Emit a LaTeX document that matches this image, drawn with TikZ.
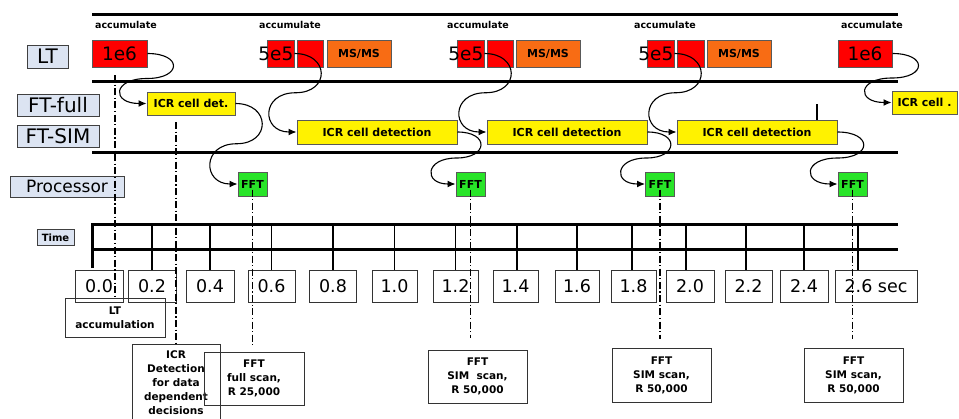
\documentclass[tikz,border=0pt]{standalone}
\usepackage{fontspec}
\setmainfont{DejaVu Sans}
\usetikzlibrary{arrows.meta,calc}

\definecolor{labelblue}{RGB}{220,228,242}
\definecolor{msorange}{RGB}{248,108,20}
\definecolor{fftgreen}{RGB}{40,228,40}

\tikzset{
  lane/.style={line width=3pt},
  tick/.style={line width=1.2pt},
  guide/.style={line width=1.2pt, dash pattern=on 7pt off 2.5pt on 1.2pt off 2.5pt},
  flow/.style={line width=1.1pt, -{Latex[length=8pt,width=7pt]}},
  rowlabel/.style={draw=black!75, fill=labelblue, line width=1pt, inner sep=0pt, font=\fontsize{20}{22}\selectfont},
  acc/.style={font=\fontsize{9.5}{11}\selectfont\bfseries},
  ltbox/.style={draw=black!65, fill=red, line width=1pt, minimum height=27, inner sep=0pt, font=\fontsize{18.5}{20}\selectfont},
  msbox/.style={draw=black!65, fill=msorange, line width=1pt, minimum width=64, minimum height=27, inner sep=0pt, font=\fontsize{11}{13}\selectfont\bfseries},
  icrbox/.style={draw=black!65, fill=yellow, line width=1pt, minimum height=24, inner sep=0pt, font=\fontsize{11}{13}\selectfont\bfseries},
  fftbox/.style={draw=black!65, fill=fftgreen, line width=1pt, minimum width=29, minimum height=24, inner sep=0pt, font=\fontsize{11}{13}\selectfont\bfseries},
  tickbox/.style={draw=black!80, line width=1pt, minimum height=32, inner sep=0pt, font=\fontsize{17.5}{19}\selectfont},
  note/.style={draw=black!80, line width=1pt, inner sep=0pt, align=center, font=\fontsize{10.5}{14}\selectfont\bfseries},
}

\begin{document}
\begin{tikzpicture}[x=1pt, y=-1pt]
    \useasboundingbox (0,0) rectangle (959,418);

    \draw[lane] (92,14) -- (898,14);
    \draw[lane] (92,81) -- (898,81);
    \draw[lane] (92,152) -- (898,152);

    \node[rowlabel, minimum width=41, minimum height=23] (lt) at (47.5,56.5) {LT};
    \node[rowlabel, minimum width=82, minimum height=22] (ftfull) at (58,105) {FT-full};
    \node[rowlabel, minimum width=82, minimum height=22] (ftsim) at (58,136) {FT-SIM};
    \node[rowlabel, minimum width=114, minimum height=21, font=\fontsize{17}{19}\selectfont] (proc) at (67,186.5) {Processor};
    \node[rowlabel, minimum width=37, minimum height=16, font=\fontsize{10}{12}\selectfont\bfseries] (time) at (55.5,237.5) {Time};

    \node[acc] (acc1) at (126,25) {accumulate};
    \node[acc] (acc2) at (290,25) {accumulate};
    \node[acc] (acc3) at (478,25) {accumulate};
    \node[acc] (acc4) at (665,25) {accumulate};
    \node[acc] (acc5) at (872,25) {accumulate};

    \node[ltbox, minimum width=55] (lt1) at (119.5,53.5) {1e6};

    \node[ltbox, minimum width=27] (lt2a) at (280.5,53.5) {};
    \node[ltbox, minimum width=26] (lt2b) at (310,53.5) {};
    \node[msbox] (ms2) at (359,53.5) {MS/MS};
    \node[anchor=east, inner sep=0pt, font=\fontsize{18.5}{20}\selectfont] (n2) at ([xshift=-1]lt2a.east) {5e5};

    \node[ltbox, minimum width=27] (lt3a) at (470.5,53.5) {};
    \node[ltbox, minimum width=26] (lt3b) at (500,53.5) {};
    \node[msbox] (ms3) at (548,53.5) {MS/MS};
    \node[anchor=east, inner sep=0pt, font=\fontsize{18.5}{20}\selectfont] (n3) at ([xshift=-1]lt3a.east) {5e5};

    \node[ltbox, minimum width=27] (lt4a) at (660.5,53.5) {};
    \node[ltbox, minimum width=27] (lt4b) at (690.5,53.5) {};
    \node[msbox] (ms4) at (739,53.5) {MS/MS};
    \node[anchor=east, inner sep=0pt, font=\fontsize{18.5}{20}\selectfont] (n4) at ([xshift=-1]lt4a.east) {5e5};

    \node[ltbox, minimum width=54] (lt5) at (865,53.5) {1e6};

    \node[icrbox, minimum width=88, minimum height=23] (icra) at (191,103.5) {ICR cell det.};
    \node[icrbox, minimum width=160] (icrb) at (377,132) {ICR cell detection};
    \node[icrbox, minimum width=160] (icrc) at (567,132) {ICR cell detection};
    \node[icrbox, minimum width=160] (icrd) at (757,132) {ICR cell detection};
    \node[icrbox, minimum width=65, minimum height=23] (icre) at (924.5,102.5) {ICR cell .};
    \draw[tick] ([xshift=60]icrd.north) -- ++(0,-16);

    \node[fftbox] (fft1) at (252.5,184) {FFT};
    \node[fftbox] (fft2) at (470.5,184) {FFT};
    \node[fftbox] (fft3) at (660,184) {FFT};
    \node[fftbox] (fft4) at (852.5,184) {FFT};

    \draw[flow] (lt1.east) .. controls +(35,0) and +(35,0) .. ($(lt1.east)!.5!(icra.west)$) .. controls +(-35,0) and +(-35,0) .. (icra.west);
    \draw[flow] (icra.east) .. controls +(35,0) and +(35,0) .. ($(icra.east)!.5!(fft1.west)$) .. controls +(-35,0) and +(-35,0) .. (fft1.west);
    \draw[flow] (lt2a.east) .. controls +(35,0) and +(35,0) .. ($(lt2a.east)!.5!(icrb.west)$) .. controls +(-35,0) and +(-35,0) .. (icrb.west);
    \draw[flow] (icrb.east) .. controls +(32,0) and +(32,0) .. ($(icrb.east)!.5!(fft2.west)$) .. controls +(-32,0) and +(-32,0) .. (fft2.west);
    \draw[flow] (lt3a.east) .. controls +(35,0) and +(35,0) .. ($(lt3a.east)!.5!(icrc.west)$) .. controls +(-35,0) and +(-35,0) .. (icrc.west);
    \draw[flow] (icrc.east) .. controls +(32,0) and +(32,0) .. ($(icrc.east)!.5!(fft3.west)$) .. controls +(-32,0) and +(-32,0) .. (fft3.west);
    \draw[flow] (lt4a.east) .. controls +(35,0) and +(35,0) .. ($(lt4a.east)!.5!(icrd.west)$) .. controls +(-35,0) and +(-35,0) .. (icrd.west);
    \draw[flow] (icrd.east) .. controls +(35,0) and +(35,0) .. ($(icrd.east)!.5!(fft4.west)$) .. controls +(-35,0) and +(-35,0) .. (fft4.west);
    \draw[flow] (lt5.east) .. controls +(35,0) and +(35,0) .. ($(lt5.east)!.5!(icre.west)$) .. controls +(-35,0) and +(-35,0) .. (icre.west);

    \draw[lane] (92,268) -- (92,224) -- (898,224);
    \draw[lane] (92,249) -- (898,249);

    \node[tickbox, minimum width=48] (t0) at (99,286) {0.0};
    \node[tickbox, minimum width=48] (t1) at (152,286) {0.2};
    \node[tickbox, minimum width=48] (t2) at (210,286) {0.4};
    \node[tickbox, minimum width=47] (t3) at (271.5,286) {0.6};
    \node[tickbox, minimum width=47] (t4) at (333,286) {0.8};
    \node[tickbox, minimum width=45] (t5) at (394.5,286) {1.0};
    \node[tickbox, minimum width=45] (t6) at (455.5,286) {1.2};
    \node[tickbox, minimum width=45] (t7) at (515.5,286) {1.4};
    \node[tickbox, minimum width=44] (t8) at (577,286) {1.6};
    \node[tickbox, minimum width=45] (t9) at (633.5,286) {1.8};
    \node[tickbox, minimum width=48] (t10) at (690,286) {2.0};
    \node[tickbox, minimum width=47] (t11) at (748.5,286) {2.2};
    \node[tickbox, minimum width=48] (t12) at (804,286) {2.4};
    \node[tickbox, minimum width=82] (t13) at (876,286) {2.6 sec};

    \draw[tick] (t1.north) -- ++(0,-46);
    \draw[tick] (t2.north) -- ++(0,-46);
    \draw[tick] (t3.north) -- ++(0,-46);
    \draw[tick] (t4.north) -- ++(0,-46);
    \draw[tick] (t5.north) -- ++(0,-46);
    \draw[tick] (t6.north) -- ++(0,-46);
    \draw[tick] ([xshift=1.5]t7.north) -- ++(0,-46);
    \draw[tick] (t8.north) -- ++(0,-46);
    \draw[tick] ([xshift=-1.5]t9.north) -- ++(0,-46);
    \draw[tick] ([xshift=-4]t10.north) -- ++(0,-46);
    \draw[tick] ([xshift=-2.5]t11.north) -- ++(0,-46);
    \draw[tick] (t12.north) -- ++(0,-46);
    \draw[tick] ([xshift=-18]t13.north) -- ++(0,-46);

    \node[note, minimum width=100, minimum height=39] (notelt) at (115,317.5) {LT\\accumulation};
    \node[note, minimum width=88, minimum height=78] (noteicr) at (176,383) {ICR\\Detection\\for data\\dependent\\decisions};
    \node[note, minimum width=100, minimum height=53] (notefa) at (254,378.5) {FFT\\full scan,\\R 25,000};
    \node[note, minimum width=99, minimum height=53] (notefb) at (477.5,376.5) {FFT\\SIM\ \ scan,\\R 50,000};
    \node[note, minimum width=99, minimum height=54] (notefc) at (661.5,375) {FFT\\SIM scan,\\R 50,000};
    \node[note, minimum width=99, minimum height=54] (notefd) at (853.5,375) {FFT\\SIM scan,\\R 50,000};

    \draw[guide] (115,75) -- (notelt.north -| 115,0);
    \draw[guide] (176,122) -- (noteicr.north);
    \draw[guide] ([yshift=7]fft1.south) -- ($(notefa.north -| fft1.south)+(0,-7)$);
    \draw[guide] ([yshift=7]fft2.south) -- ($(notefb.north -| fft2.south)+(0,-12)$);
    \draw[guide] ([yshift=7]fft3.south) -- ($(notefc.north -| fft3.south)+(0,-9)$);
    \draw[guide] ([yshift=7]fft4.south) -- ($(notefd.north -| fft4.south)+(0,-9)$);
\end{tikzpicture}
\end{document}
